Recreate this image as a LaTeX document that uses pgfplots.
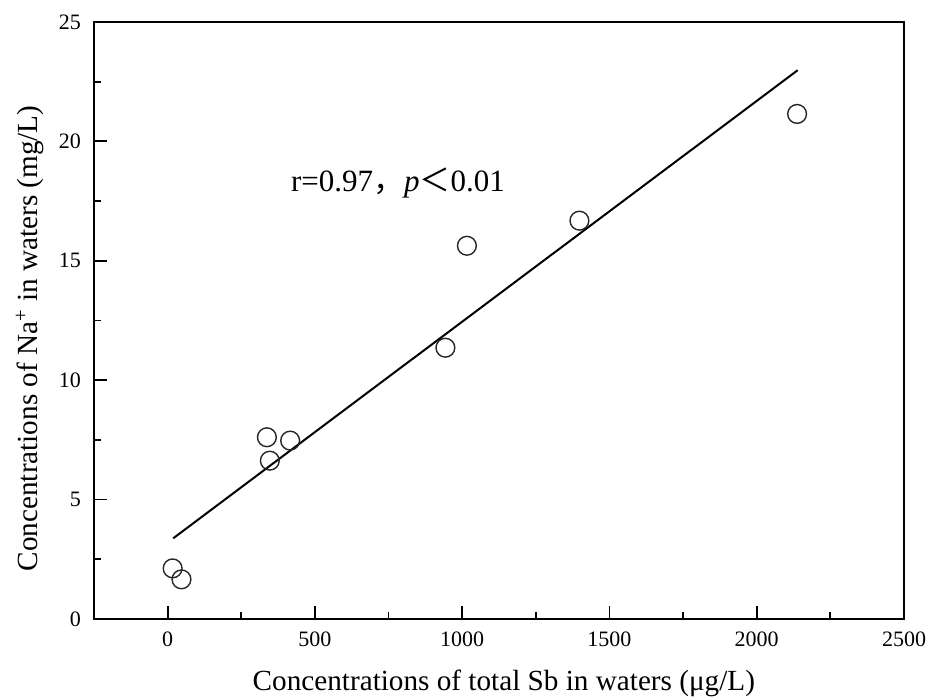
\documentclass[border=0pt]{standalone}
\usepackage{pgfplots}
\pgfplotsset{compat=1.18}
\usepackage{fontspec}
\setmainfont{Liberation Serif}
\newfontfamily\cjk{Noto Sans CJK SC}

\begin{document}
\begin{tikzpicture}
  % page frame with the reference's margins
  \path[use as bounding box] (-47pt,-40.5pt) rectangle (419pt,309.5pt);
  \begin{axis}[
      at={(0,0)}, anchor=south west,
      scale only axis,
      width=405pt, height=298.5pt,
      xmin=-250, xmax=2500,
      ymin=0, ymax=25,
      xtick={0,500,...,2500},
      ytick={0,5,...,25},
      minor x tick num=1,
      minor y tick num=1,
      xtick pos=bottom, ytick pos=left,
      tick align=inside,
      major tick length=6.5pt,
      minor tick length=3.5pt,
      every tick/.style={black, line width=0.9pt},
      axis line style={line width=1pt},
      /pgf/number format/assume math mode=true,
      /pgf/number format/set thousands separator={},
      ticklabel style={font=\fontsize{11}{12}\selectfont},
      xticklabel style={yshift=-3pt},
      yticklabel style={xshift=-3pt},
      xlabel={Concentrations of total Sb in waters (μg/L)},
      ylabel={Concentrations of Na\textsuperscript{+} in waters (mg/L)},
      label style={font=\fontsize{14.6}{17}\selectfont},
      xlabel style={at={(axis description cs:0.506,-0.107)}, anchor=center},
      ylabel style={at={(axis description cs:-0.079,0.47)}, anchor=center, rotate=0},
    ]

    % regression line
    \addplot[black, line width=1pt] coordinates {
        (19, 3.38)
        (2139, 22.98)
      };

    % measured points
    \addplot[only marks, mark=o, mark size=4.7pt,
      mark options={line width=0.7pt, draw=black!85}]
    coordinates {
        (17, 2.12)
        (47, 1.66)
        (337, 7.61)
        (347, 6.63)
        (416, 7.47)
        (943, 11.36)
        (1016, 15.63)
        (1398, 16.68)
        (2137, 21.15)
      };

    \node[anchor=base west, font=\fontsize{15.5}{17}\selectfont, inner sep=0pt]
      at (axis cs:418, 17.9) {r=0.97{\cjk ，}\textit{p}{\cjk ＜}0.01};
  \end{axis}
\end{tikzpicture}
\end{document}
